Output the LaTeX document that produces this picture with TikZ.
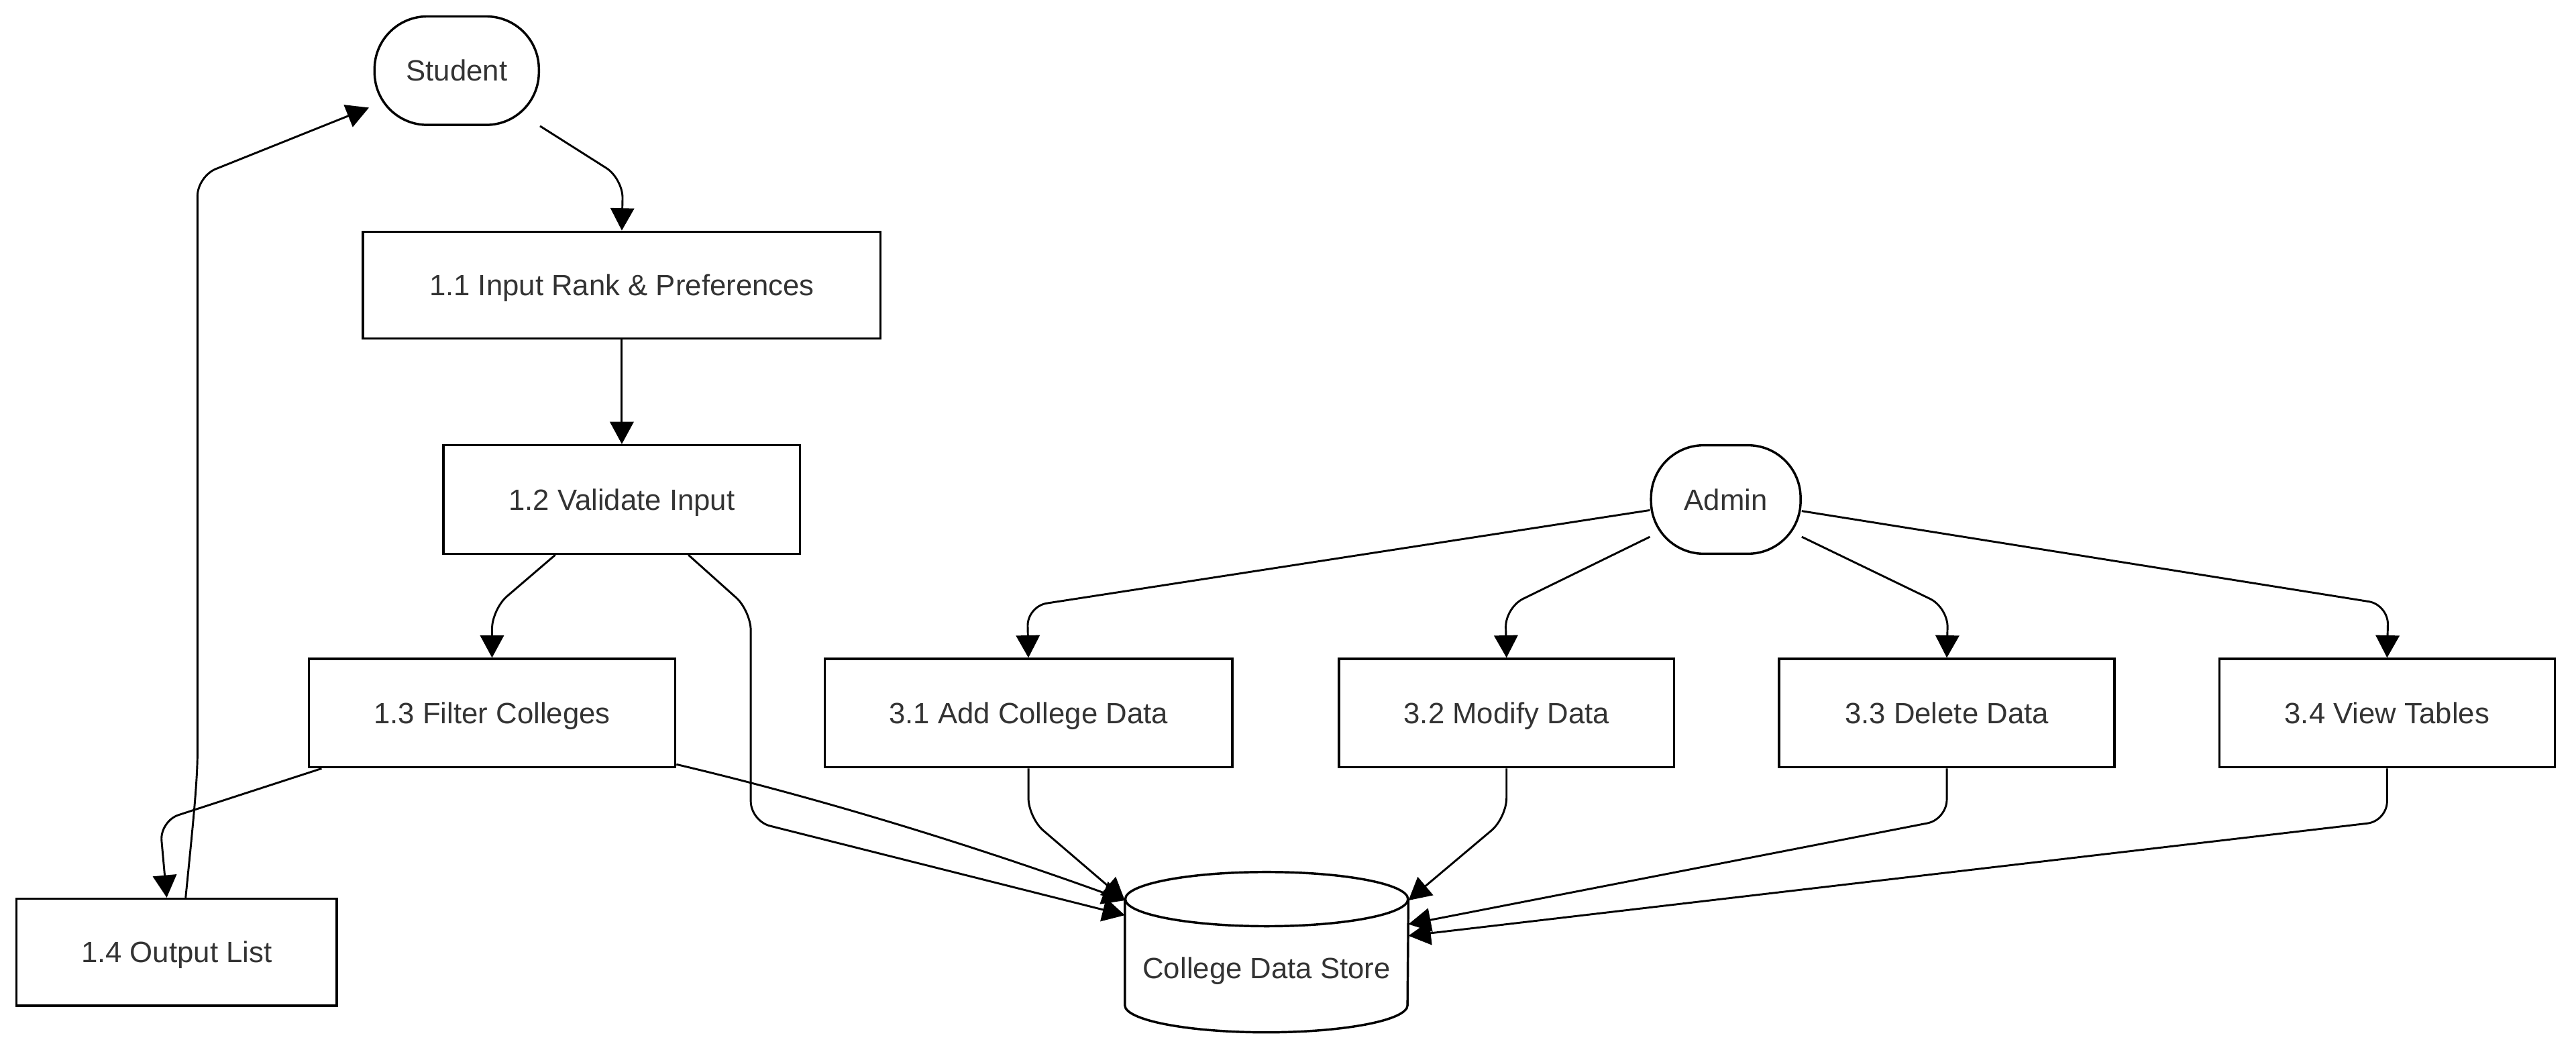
\documentclass[tikz,border=0pt]{standalone}
\usepackage{fontspec}
\setmainfont{Liberation Sans}
\usetikzlibrary{arrows.meta,calc}
\definecolor{txtgray}{HTML}{333333}

\begin{document}
\begin{tikzpicture}[
  x=0.025cm, y=-0.025cm,
  font=\fontsize{12.7}{15}\selectfont,
  box/.style={draw, line width=1pt, minimum height=1.65cm, text=txtgray, text height=0.4cm, text depth=0.08cm, align=center},
  actor/.style={draw, line width=1pt, rounded corners=0.8cm, minimum width=2.5cm, minimum height=1.65cm, text=txtgray, text height=0.4cm, text depth=0.08cm},
  store/.style={minimum width=4.3cm, minimum height=2.425cm, text=txtgray},
  line/.style={-{Triangle[length=0.34cm,width=0.36cm]}, line width=0.85pt, rounded corners=0.3cm}
]
\useasboundingbox (0,0) rectangle (1568,640);

% external entities
\node[actor] (stud) at (278,43) {Student};
\node[actor, minimum width=2.275cm] (admin) at (1050.5,304) {Admin};

% student processes
\node[box, minimum width=7.875cm, minimum height=1.625cm] (p11) at (378.5,173.5) {1.1 Input Rank \& Preferences};
\node[box, minimum width=5.425cm] (p12) at (378.5,304) {1.2 Validate Input};
\node[box, minimum width=5.575cm] (p13) at (299.5,434) {1.3 Filter Colleges};
\node[box, minimum width=4.875cm, minimum height=1.625cm] (p14) at (107.5,579.5) {1.4 Output List};

% admin processes
\node[box, minimum width=6.2cm] (p31) at (626,434) {3.1 Add College Data};
\node[box, minimum width=5.1cm] (p32) at (917,434) {3.2 Modify Data};
\node[box, minimum width=5.1cm] (p33) at (1185,434) {3.3 Delete Data};
\node[box, minimum width=5.1cm] (p34) at (1453,434) {3.4 View Tables};

% data store
\node[store] (store) at (771,579.5) {\rule{0pt}{0.9cm}College Data Store};
\draw[line width=1pt] ($(store.north)+(0,16.5)$) ellipse [x radius=2.15cm, y radius=0.4125cm];
\draw[line width=1pt] ($(store.north west)+(0,16.5)$) -- ($(store.south west)+(0,-16.5)$)
  arc [start angle=180, end angle=360, x radius=2.15cm, y radius=0.4125cm]
  -- ($(store.north east)+(0,16.5)$);

% student flow
\draw[line] (stud.south east) -- ++(50.5,32) -- (p11.north);
\draw[line] (p11.south) -- (p12.north);
\draw[line] ($(p12.south)+(-40.5,0)$) -- ++(-38.5,33) -- (p13.north);
\draw[line] ($(p12.south)+(40.5,0)$) -- ++(38,34) -- ++(0,128) -- ($(store.west)+(0,-22.5)$);
\draw[line] ($(p13.south east)+(0,-2.5)$) .. controls +(85,20) and +(-97,-35) .. ($(store.west)+(0,-31.5)$);
\draw[line] ($(p13.south west)+(8.5,0)$) -- ++(-98.5,32) -- ($(p14.north)+(-6,0)$);
\draw[line] ($(p14.north)+(5.5,0)$) .. controls +(4,-40) and +(0,30) .. ++(7.2,-100)
  -- ++(0,-339) -- ($(stud.south west)+(-2.7,-11.2)$);

% admin flow
\draw[line] ($(admin.west)+(0,6.5)$) -- ++(-379,58.5) -- (p31.north);
\draw[line] ($(admin.south west)+(0,-11)$) -- ++(-88,43) -- (p32.north);
\draw[line] ($(admin.south east)+(0,-11)$) -- ++(89,43) -- (p33.north);
\draw[line] ($(admin.east)+(0,7)$) -- ++(357,57) -- (p34.north);

\draw[line] (p31.south) -- ++(0,30) -- ($(store.west)+(0,-31.5)$);
\draw[line] (p32.south) -- ++(0,30) -- ($(store.east)+(0,-31.5)$);
\draw[line] (p33.south) -- ++(0,31) -- ($(store.east)+(0,-17)$);
\draw[line] (p34.south) -- ++(0,32) -- ($(store.east)+(0,-10)$);
\end{tikzpicture}
\end{document}
